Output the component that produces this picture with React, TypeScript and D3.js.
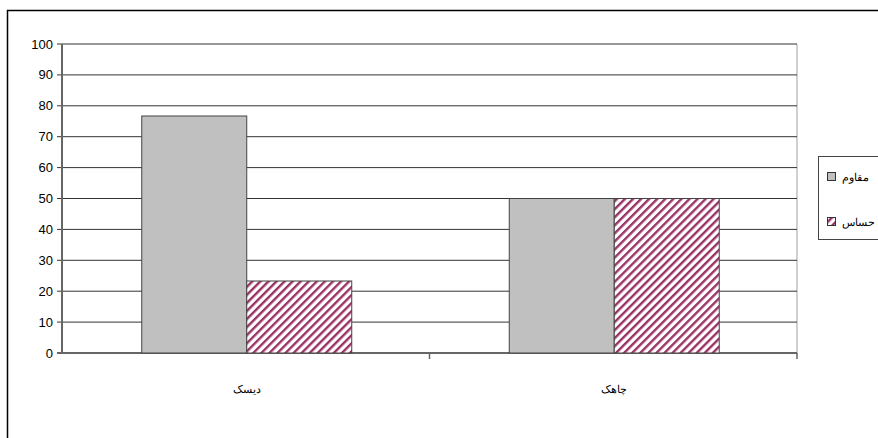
import React from "react";
import * as d3 from "d3";

const categories = ["دیسک", "چاهک"];
const seriesNames = ["مقاوم", "حساس"];
const resistant = [76.7, 50];
const sensitive = [23.3, 50];
const yTicks = [0, 10, 20, 30, 40, 50, 60, 70, 80, 90, 100];

export default function App() {
  const W = 878, H = 438;
  const left = 62, right = 797, top = 44, bottom = 353;
  const y = d3.scaleLinear().domain([0, 100]).range([bottom, top]);
  const x0 = d3.scaleBand().domain(categories).range([left, right]).paddingInner(0).paddingOuter(0);
  const groupW = 210;
  const x1 = d3.scaleBand().domain(seriesNames).range([0, groupW]);
  const series = [resistant, sensitive];
  const fills = ["#C0C0C0", "url(#stripes)"];

  return (
    <svg width={W} height={H} style={{ position: "absolute", left: 0, top: 0 }}>
      <defs>
        <pattern id="stripes" patternUnits="userSpaceOnUse" width={5.7} height={5.7} patternTransform="rotate(45)">
          <rect x={0} y={0} width={5.7} height={5.7} fill="#fff" />
          <rect x={0} y={0} width={2.4} height={5.7} fill="#993366" />
        </pattern>
      </defs>
      <rect x={0} y={0} width={W} height={H} fill="#fff" />
      <rect x={7.5} y={10.5} width={W + 20} height={H + 20} fill="none" stroke="#000" strokeWidth={1.5} />
      <line x1={right} x2={right} y1={top} y2={bottom} stroke="#c0c0c0" strokeWidth={1.5} />
      {yTicks.map((t) => (
        <g key={t}>
          <line x1={left - 5} x2={right} y1={y(t)} y2={y(t)} stroke="#333" strokeWidth={t === 0 ? 1.5 : 1} />
          <text x={53} y={y(t)} dy="0.35em" textAnchor="end" fontFamily="Liberation Sans, Arial, sans-serif" fontSize={13} fill="#000">
            {t}
          </text>
        </g>
      ))}
      {categories.map((c, i) => {
        const gx = (x0(c) as number) + x0.bandwidth() / 2 - groupW / 2 + 1;
        return (
          <g key={c}>
            {series.map((s, j) => (
              <rect
                key={j}
                x={gx + (x1(seriesNames[j]) as number)}
                y={y(s[i])}
                width={x1.bandwidth()}
                height={bottom - y(s[i])}
                fill={fills[j]}
                stroke="#444"
                strokeWidth={1}
              />
            ))}
            <text x={(x0(c) as number) + x0.bandwidth() / 2 + 1} y={393} textAnchor="middle" fontFamily="DejaVu Serif, serif" fontSize={10.5} fill="#000">
              {c}
            </text>
          </g>
        );
      })}
      <line x1={left} x2={left} y1={top} y2={bottom + 1} stroke="#666" strokeWidth={2} />
      {categories.slice(1).map((c) => (
        <line key={c} x1={x0(c) as number} x2={x0(c) as number} y1={bottom} y2={bottom + 6} stroke="#666" strokeWidth={1.5} />
      ))}
      <line x1={right} x2={right} y1={bottom} y2={bottom + 6} stroke="#666" strokeWidth={1.5} />
      <rect x={818.5} y={156.5} width={80} height={83} fill="#fff" stroke="#444" strokeWidth={1} />
      {seriesNames.map((n, j) => (
        <g key={n}>
          <rect x={827.5} y={172.5 + j * 45} width={8} height={8} fill={fills[j]} stroke="#333" strokeWidth={1} />
          <text x={842} y={177 + j * 45} dy="0.35em" textAnchor="start" fontFamily="DejaVu Serif, serif" fontSize={10.5} fill="#000">
            {n}
          </text>
        </g>
      ))}
    </svg>
  );
}
